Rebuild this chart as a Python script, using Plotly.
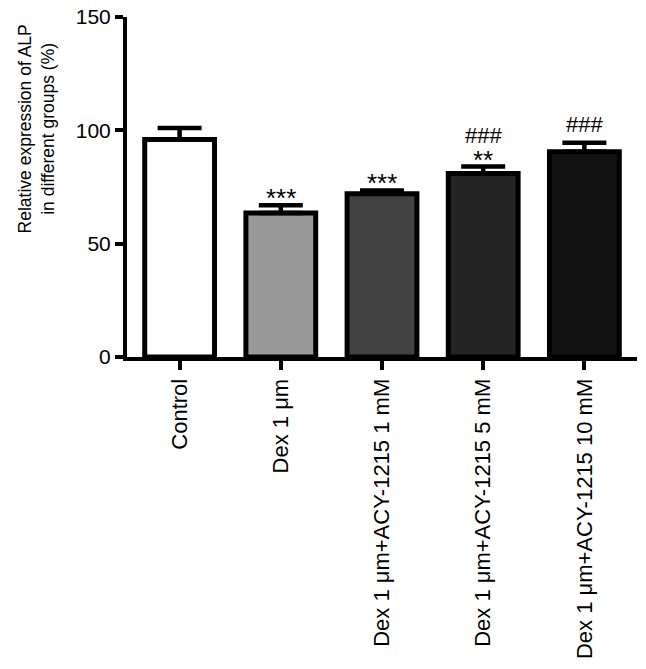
import plotly.graph_objects as go

groups = ["Control", "Dex 1 μm", "Dex 1 μm+ACY-1215 1 mM",
          "Dex 1 μm+ACY-1215 5 mM", "Dex 1 μm+ACY-1215 10 mM"]
means = [96, 63.5, 72, 81, 90.5]
errors = [5, 3.5, 1.5, 3, 4]
stars = ["", "***", "***", "**", ""]
hashes = ["", "", "", "###", "###"]
fills = ["#ffffff", "#999999", "#424242", "#242424", "#121212"]

font = "Liberation Sans, Arial, sans-serif"

fig = go.Figure()
fig.add_trace(go.Bar(
    x=list(range(len(groups))), y=means, width=0.69,
    marker=dict(color=fills, line=dict(color="black", width=5)),
    error_y=dict(type="data", array=errors, arrayminus=[0]*len(errors),
                 symmetric=False, color="black", thickness=4.5, width=22),
))

# significance marks above the error bars
for i in range(len(groups)):
    top = means[i] + errors[i]
    if stars[i]:
        fig.add_annotation(x=i, y=top, text=stars[i], showarrow=False,
                           yanchor="middle", yshift=7,
                           font=dict(family=font, size=26, color="black"))
    if hashes[i]:
        shift = 31 if stars[i] else 18
        fig.add_annotation(x=i, y=top, text=hashes[i], showarrow=False,
                           yanchor="middle", yshift=shift,
                           font=dict(family=font, size=22, color="black"))

fig.add_annotation(xref="paper", yref="paper", x=-0.178, y=0.67,
                   text="Relative expression of ALP<br>in different groups (%)",
                   textangle=-90, showarrow=False, xanchor="center", yanchor="middle",
                   font=dict(family=font, size=17.5, color="black"))

fig.update_layout(
    width=638, height=661, showlegend=False,
    plot_bgcolor="white", paper_bgcolor="white",
    margin=dict(l=119, r=9, t=9, b=312),
    font=dict(family=font, color="black"),
)
fig.update_yaxes(range=[0, 150], tickvals=[0, 50, 100, 150],
                 showline=True, linewidth=4, linecolor="black",
                 ticks="outside", ticklen=8, tickwidth=3.5, tickcolor="black",
                 showgrid=False, zeroline=False, tickfont=dict(size=21),
                 ticklabeloverflow="allow", automargin=False)
fig.update_xaxes(range=[-0.52, 4.52], tickvals=list(range(len(groups))), ticktext=groups,
                 tickangle=-90, showline=True, linewidth=4, linecolor="black",
                 ticks="outside", ticklen=9, tickwidth=3.5, tickcolor="black",
                 showgrid=False, zeroline=False, tickfont=dict(size=22),
                 ticklabeloverflow="allow", automargin=False)

fig.write_html("out.html")
